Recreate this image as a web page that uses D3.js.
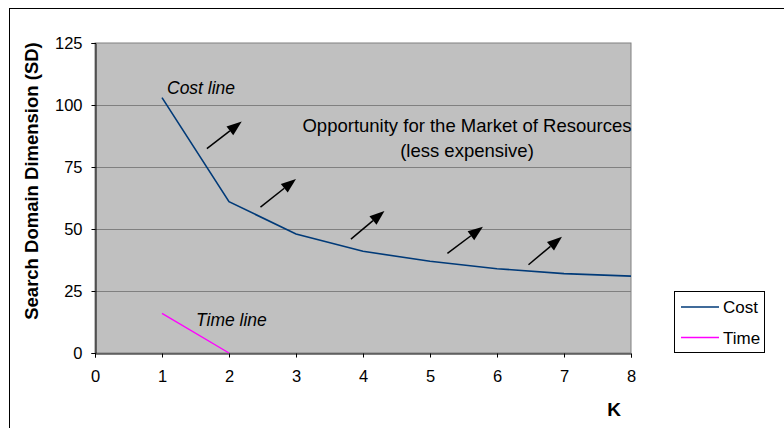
<!DOCTYPE html>
<html><head><meta charset="utf-8">
<script src="https://cdn.jsdelivr.net/npm/d3@7/dist/d3.min.js"></script>
<style>body{margin:0;background:#fff}svg{display:block}text{font-family:Arial,"Liberation Sans",sans-serif}</style>
</head><body>
<svg id="c" width="784" height="428"></svg>
<script>
const kValues = [1, 2, 3, 4, 5, 6, 7, 8];
const costValues = [103, 61, 48, 41, 37, 34, 32, 31];
const timeK = [1, 2];
const timeValues = [16, 0];
const xTicks = [0, 1, 2, 3, 4, 5, 6, 7, 8];
const yTicks = [0, 25, 50, 75, 100, 125];
// arrows: [k, sd]
const arrowTails = [[1.67, 82.4], [2.47, 58.8], [3.82, 45.9], [5.26, 40.2], [6.47, 35.6]];
const arrowTips = [[2.19, 93.3], [3.0, 70.2], [4.32, 57.3], [5.79, 50.9], [6.97, 46.9]];

const svg = d3.select("#c");
svg.append("rect").attr("x", 9.5).attr("y", 8.5).attr("width", 800).attr("height", 500)
  .attr("fill", "#fff").attr("stroke", "#000");

const L = 95, R = 631, T = 43, B = 353;
const x = d3.scaleLinear().domain([0, 8]).range([L, R]);
const y = d3.scaleLinear().domain([0, 125]).range([B, T]);

svg.append("rect").attr("x", L).attr("y", T).attr("width", R - L).attr("height", B - T)
  .attr("fill", "#C0C0C0").attr("stroke", "#808080");

svg.append("g").selectAll("line").data(yTicks.filter(d => d > 0 && d < 125)).join("line")
  .attr("x1", L).attr("x2", R).attr("y1", d => Math.round(y(d)) + 0.5).attr("y2", d => Math.round(y(d)) + 0.5)
  .attr("stroke", "#808080");

const xAxis = svg.append("g").attr("transform", `translate(0,${B + 0.5})`)
  .call(d3.axisBottom(x).tickValues(xTicks).tickSize(4).tickPadding(13).tickFormat(d3.format("d")));
const yAxis = svg.append("g").attr("transform", `translate(${L + 0.5},0)`)
  .call(d3.axisLeft(y).tickValues(yTicks).tickSize(4).tickPadding(9).tickFormat(d3.format("d")));
[xAxis, yAxis].forEach(g => {
  g.select(".domain").attr("stroke", "#000");
  g.selectAll(".tick line").attr("stroke", "#000");
  g.selectAll(".tick text").attr("font-size", 16.5).attr("fill", "#000")
    .attr("font-family", "Arial, 'Liberation Sans', sans-serif");
});
yAxis.selectAll(".tick text").attr("dy", "0.36em");

const line = d3.line().x(d => x(d[0])).y(d => y(d[1]));
svg.append("path").datum(kValues.map((k, i) => [k, costValues[i]]))
  .attr("d", line).attr("fill", "none").attr("stroke", "#003A78").attr("stroke-width", 1.6);
svg.append("path").datum(timeK.map((k, i) => [k, timeValues[i]]))
  .attr("d", line).attr("fill", "none").attr("stroke", "#FF00FF").attr("stroke-width", 1.4);

// arrows
arrowTails.forEach((t, i) => {
  const p = arrowTips[i];
  const x0 = x(t[0]), y0 = y(t[1]), x1 = x(p[0]), y1 = y(p[1]);
  const ang = Math.atan2(y1 - y0, x1 - x0);
  const hl = 15, hw = 5.5;
  const bx = x1 - hl * Math.cos(ang), by = y1 - hl * Math.sin(ang);
  svg.append("line").attr("x1", x0).attr("y1", y0).attr("x2", bx).attr("y2", by)
    .attr("stroke", "#000").attr("stroke-width", 1.5);
  const nx = -Math.sin(ang), ny = Math.cos(ang);
  svg.append("path").attr("d", `M${x1},${y1}L${bx + hw * nx},${by + hw * ny}L${bx - hw * nx},${by - hw * ny}Z`)
    .attr("fill", "#000");
});

svg.append("text").attr("x", 167).attr("y", 94).attr("font-size", 17.5).attr("font-style", "italic").text("Cost line");
svg.append("text").attr("x", 196).attr("y", 326).attr("font-size", 17.5).attr("font-style", "italic").text("Time line");
svg.append("text").attr("x", 467).attr("y", 132).attr("font-size", 18.5).attr("text-anchor", "middle").text("Opportunity for the Market of Resources");
svg.append("text").attr("x", 467).attr("y", 157).attr("font-size", 18.5).attr("text-anchor", "middle").text("(less expensive)");

svg.append("text").attr("transform", "translate(38,181) rotate(-90)").attr("text-anchor", "middle")
  .attr("font-size", 18.5).attr("font-weight", "bold").text("Search Domain Dimension (SD)");
svg.append("text").attr("x", 614).attr("y", 416).attr("text-anchor", "middle")
  .attr("font-size", 19).attr("font-weight", "bold").text("K");

// legend
const lg = svg.append("g");
lg.append("rect").attr("x", 674.5).attr("y", 291.5).attr("width", 90).attr("height", 61)
  .attr("fill", "#fff").attr("stroke", "#000");
const legendItems = [["Cost", "#003A78"], ["Time", "#FF00FF"]];
legendItems.forEach((d, i) => {
  const yy = 307 + i * 30.5;
  lg.append("line").attr("x1", 681).attr("x2", 719).attr("y1", yy).attr("y2", yy).attr("stroke", d[1]).attr("stroke-width", 1.4);
  lg.append("text").attr("x", 723).attr("y", yy + 6).attr("font-size", 17).text(d[0]);
});
</script>
</body></html>
